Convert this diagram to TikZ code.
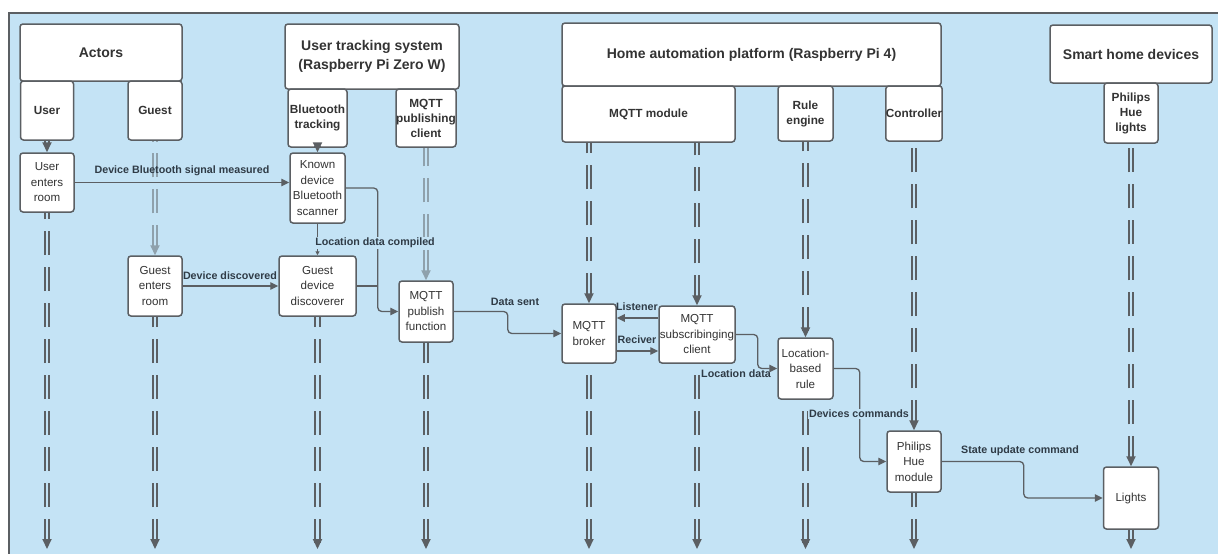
\documentclass[tikz,border=0pt]{standalone}
\usepackage{fontspec}
\setmainfont{Liberation Sans}
\usetikzlibrary{arrows.meta,calc}

\definecolor{bgblue}{HTML}{C4E3F5}
\definecolor{linec}{HTML}{5B5F63}
\definecolor{txtc}{HTML}{333333}
\definecolor{lblc}{HTML}{2F3B46}
\colorlet{lifelight}{linec!50!bgblue}

\tikzset{
  box/.style={draw=linec, fill=white, rounded corners=3pt, line width=1.5pt,
    inner sep=0pt, align=center, text=txtc},
  headbox/.style={box, font=\fontsize{14}{19}\selectfont\bfseries},
  subbox/.style={box, font=\fontsize{11.8}{15}\selectfont\bfseries},
  actbox/.style={box, font=\fontsize{11.6}{15.5}\selectfont},
  % lifelines are drawn from their arrow end back to their source,
  % so the dash pattern always meets the arrow tip with a full dash
  lifeline/.style={draw=#1, line width=2pt, dash pattern=on 0pt off 3000pt,
    {Triangle[length=10pt,width=9pt]}-,
    preaction={draw=#1, -, line width=2pt, double=bgblue, double distance=2.6pt,
      dash pattern=on 24pt off 12pt, shorten <=6pt}},
  lifeline/.default=linec,
  msg/.style={draw=linec, line width=1.3pt, rounded corners=4pt,
    -{Triangle[length=8pt,width=7.5pt]}},
  msglabel/.style={font=\fontsize{10.7}{13}\selectfont\bfseries, text=lblc,
    inner sep=1pt},
  masked/.style={fill=bgblue},
}

\begin{document}
\begin{tikzpicture}[x=1pt,y=-1pt]
\useasboundingbox (0,0) rectangle (1218,554);
\fill[white] (0,0) rectangle (1218,554);
% swimlane area
\draw[draw=linec, fill=bgblue, line width=2pt] (9,13) rectangle (1240,580);

% lane headers
\node[headbox, minimum width=162pt, minimum height=57pt] (actors) at (101,52.5) {Actors};
\node[subbox, minimum width=53pt, minimum height=59pt] (user) at (47,110.5) {User};
\node[subbox, minimum width=54pt, minimum height=59pt] (guest) at (155,110.5) {Guest};

\node[headbox, minimum width=174pt, minimum height=65pt] (uts) at (372,56.5)
  {User tracking system\\(Raspberry Pi Zero W)};
\node[subbox, minimum width=59pt, minimum height=58pt] (bt) at (317.5,118) {Bluetooth\\tracking};
\node[subbox, minimum width=60pt, minimum height=58pt] (mpc) at (426,118) {MQTT\\publishing\\client};

\node[headbox, minimum width=379pt, minimum height=63pt] (hap) at (751.5,54.5)
  {Home automation platform (Raspberry Pi 4)};
\node[subbox, minimum width=173pt, minimum height=56pt] (mqm) at (648.5,114) {MQTT module};
\node[subbox, minimum width=55pt, minimum height=55pt] (rule) at (805.5,113.5) {Rule\\engine};
\node[subbox, minimum width=54pt, minimum height=55pt] (ctrl) at (914,113.5) {Controller};

\node[headbox, minimum width=162pt, minimum height=58pt] (shd) at (1131,54) {Smart home devices};
\node[subbox, minimum width=54pt, minimum height=60pt] (phl) at (1131,113) {Philips\\Hue\\lights};

% activities
\node[actbox, minimum width=54pt, minimum height=59pt] (uer) at (47,182.5) {User\\enters\\room};
\node[actbox, minimum width=54pt, minimum height=60pt] (ger) at (155,286) {Guest\\enters\\room};
\node[actbox, minimum width=55pt, minimum height=70pt] (kds) at (317.5,188) {Known\\device\\Bluetooth\\scanner};
\node[actbox, minimum width=77pt, minimum height=60pt] (gdd) at (317.5,286) {Guest\\device\\discoverer};
\node[actbox, minimum width=54pt, minimum height=61pt] (mpf) at (426,311.5) {MQTT\\publish\\function};
\node[actbox, minimum width=54pt, minimum height=59pt] (brk) at (589,333.5) {MQTT\\broker};
\node[actbox, minimum width=76pt, minimum height=57pt] (sub) at (697,334.5) {MQTT\\subscribinging\\client};
\node[actbox, minimum width=55pt, minimum height=61pt] (lbr) at (805.5,368.5) {Location-\\based\\rule};
\node[actbox, minimum width=54pt, minimum height=61pt] (phm) at (914,461.5) {Philips\\Hue\\module};
\node[actbox, minimum width=55pt, minimum height=62pt] (lights) at (1131,498) {Lights};

\coordinate (bottom) at (0,549);

% lifelines down to the first activity
\draw[lifeline] (uer.north) -- (user.south);
\draw[lifeline=lifelight] (ger.north) -- (guest.south);
\draw[lifeline] (kds.north) -- (bt.south);
\draw[lifeline=lifelight] (mpf.north) -- (mpc.south);
\draw[lifeline] (brk.north) -- (mqm.south -| brk);
\draw[lifeline] (sub.north) -- (mqm.south -| sub);
\draw[lifeline] (lbr.north) -- (rule.south);
\draw[lifeline] (phm.north) -- (ctrl.south);
\draw[lifeline] (lights.north) -- (phl.south);

% lifelines after the activities
\foreach \n in {uer,ger,gdd,mpf,brk,sub,lbr,phm,lights}
  \draw[lifeline] (\n.south |- bottom) -- (\n.south);

% messages
\draw[msg] (uer.east) -- (uer.east -| kds.west);
\node[msglabel] (l1) at (182,171) {Device Bluetooth signal measured};

\draw[msg] (ger.east) -- (gdd.west);
\node[msglabel] (l2) at (230,276) {Device discovered};

\draw[draw=linec, line width=1.3pt, -{Triangle[length=4pt,width=4pt]}] (kds.south) -- (gdd.north);
\draw[msg] (kds.east) -- ++(32,0) |- (mpf.west);
\draw[draw=linec, line width=1.3pt] (gdd.east) -- ++(21,0);
\node[msglabel, masked] (l3) at (375,243) {Location data compiled};

\draw[msg] (mpf.east) -- ++(54,0) |- (brk.west);
\node[msglabel] (l4) at (515,302) {Data sent};

\draw[msg] ([yshift=16.5pt]sub.west) -- ([yshift=16.5pt]sub.west -| brk.east);
\node[msglabel] (l5) at (637,307) {Listener};
\draw[msg] ([yshift=-17.5pt]brk.east) -- ([yshift=-17.5pt]brk.east -| sub.west);
\node[msglabel] (l6) at (637,340) {Reciver};

\draw[msg] (sub.east) -- ++(22,0) |- (lbr.west);
\node[msglabel] (l7) at (736,374) {Location data};

\draw[msg] (lbr.east) -- ++(26,0) |- (phm.west);
\node[msglabel, masked] (l8) at (859,414) {Devices commands};

\draw[msg] (phm.east) -- ++(82,0) |- (lights.west);
\node[msglabel] (l9) at (1020,451) {State update command};
\end{tikzpicture}
\end{document}
